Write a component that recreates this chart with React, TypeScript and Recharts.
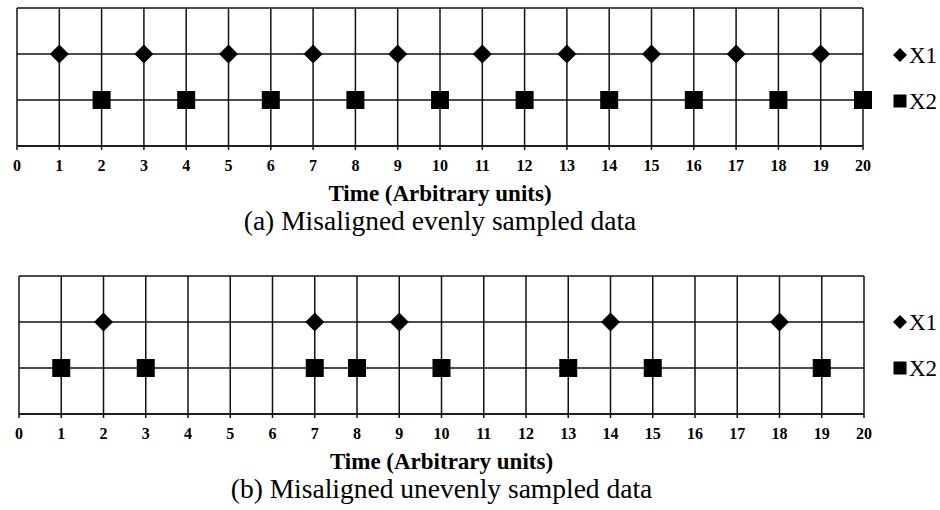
import React from "react";
import { CartesianGrid, Label, Legend, Scatter, ScatterChart, XAxis, YAxis } from "recharts";

// time axis
const timeTicks = [0, 1, 2, 3, 4, 5, 6, 7, 8, 9, 10, 11, 12, 13, 14, 15, 16, 17, 18, 19, 20];
const levelTicks = [0, 1, 2, 3];

// series rows
const x1Level = 2;
const x2Level = 1;

// (a) evenly sampled
const evenX1Times = [1, 3, 5, 7, 9, 11, 13, 15, 17, 19];
const evenX2Times = [2, 4, 6, 8, 10, 12, 14, 16, 18, 20];

// (b) unevenly sampled
const unevenX1Times = [2, 7, 9, 14, 18];
const unevenX2Times = [1, 3, 7, 8, 10, 13, 15, 19];

const axisTitle = "Time (Arbitrary units)";
const captionA = "(a) Misaligned evenly sampled data";
const captionB = "(b) Misaligned unevenly sampled data";

const serif = "'Liberation Serif', 'Times New Roman', serif";
const ink = "#111";

const toPoints = (times: number[], level: number) => times.map((t) => ({ t, level }));

const DiamondMark = (props: any) => {
  const { cx, cy } = props;
  const r = 9.5;
  return <polygon points={`${cx},${cy - r} ${cx + r},${cy} ${cx},${cy + r} ${cx - r},${cy}`} fill="#000" />;
};

const SquareMark = (props: any) => {
  const { cx, cy } = props;
  const h = 9;
  return <rect x={cx - h} y={cy - h} width={h * 2} height={h * 2} fill="#000" />;
};

const legendGlyph = (name: string) =>
  name === "X1" ? (
    <svg width={14} height={14}>
      <polygon points="7,0 14,7 7,14 0,7" fill="#000" />
    </svg>
  ) : (
    <svg width={14} height={14}>
      <rect x={0.5} y={0.5} width={13} height={13} fill="#000" />
    </svg>
  );

const renderLegend = (props: any) => {
  const { payload = [] } = props;
  return (
    <div style={{ fontFamily: serif, fontSize: 23, color: "#000" }}>
      {payload.map((entry: any) => (
        <div key={entry.value} style={{ height: 46, display: "flex", alignItems: "center", gap: 2 }}>
          {legendGlyph(entry.value)}
          <span style={{ lineHeight: 1 }}>{entry.value}</span>
        </div>
      ))}
    </div>
  );
};

type PanelProps = {
  x1: number[];
  x2: number[];
  caption: string;
  height: number;
  margin: { top: number; right: number; bottom: number; left: number };
  axisHeight: number;
  legendTop: number;
};

function TimelinePanel({ x1, x2, caption, height, margin, axisHeight, legendTop }: PanelProps) {
  return (
    <ScatterChart width={940} height={height} margin={margin}>
      <CartesianGrid stroke={ink} strokeWidth={1.5} strokeOpacity={1} />
      <XAxis
        type="number"
        dataKey="t"
        domain={[0, 20]}
        ticks={timeTicks}
        interval={0}
        height={axisHeight}
        axisLine={{ stroke: ink, strokeWidth: 1.5 }}
        tickLine={{ stroke: ink, strokeWidth: 1.5 }}
        tickSize={4}
        tickMargin={10}
        tick={{ fill: "#000", fontSize: 16, fontWeight: 700, fontFamily: serif }}
      >
        <Label
          value={axisTitle}
          position="insideTop"
          offset={39}
          style={{ fill: "#000", fontSize: 23, fontWeight: 700, fontFamily: serif }}
        />
        <Label
          value={caption}
          position="insideTop"
          offset={64}
          style={{ fill: "#000", fontSize: 27.5, fontFamily: serif }}
        />
      </XAxis>
      <YAxis type="number" dataKey="level" domain={[0, 3]} ticks={levelTicks} hide />
      <Legend
        content={renderLegend}
        layout="horizontal"
        verticalAlign="middle"
        align="center"
        wrapperStyle={{ left: 893, top: legendTop, width: 47 }}
      />
      <Scatter name="X1" data={toPoints(x1, x1Level)} shape={DiamondMark} isAnimationActive={false} />
      <Scatter name="X2" data={toPoints(x2, x2Level)} shape={SquareMark} isAnimationActive={false} />
    </ScatterChart>
  );
}

export default function App() {
  return (
    <div style={{ position: "absolute", left: 0, top: 0, width: 940, height: 510, background: "#fff" }}>
      <TimelinePanel
        x1={evenX1Times}
        x2={evenX2Times}
        caption={captionA}
        height={260}
        margin={{ top: 8, right: 77, bottom: 0, left: 17 }}
        axisHeight={114}
        legendTop={32}
      />
      <TimelinePanel
        x1={unevenX1Times}
        x2={unevenX2Times}
        caption={captionB}
        height={250}
        margin={{ top: 16, right: 76, bottom: 0, left: 19 }}
        axisHeight={96}
        legendTop={39}
      />
    </div>
  );
}
